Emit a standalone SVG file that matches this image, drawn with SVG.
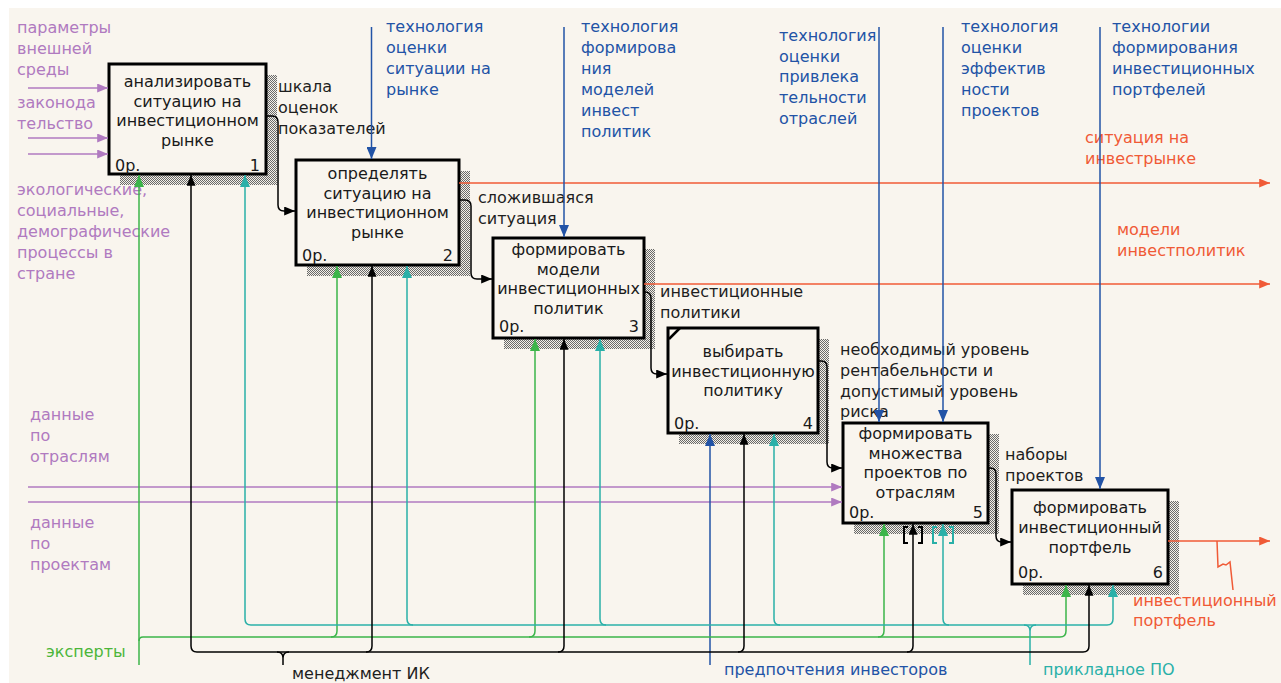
<svg xmlns="http://www.w3.org/2000/svg" width="1281" height="683" viewBox="0 0 1281 683">
<style>
text{font-family:"DejaVu Sans","Liberation Sans",sans-serif;font-size:16px}
.bg{fill:#f9f5ee}
.box{fill:#f9f5ee;stroke:#000;stroke-width:3}
.sh{fill:url(#hatch)}
.bt{fill:#1a1a1a;text-anchor:middle}
.bn{fill:#1a1a1a}
.be{fill:#1a1a1a;text-anchor:end}
.dk{fill:#1e1e1e}
.pu{fill:#b07ac0}
.bl{fill:#2253a6}
.rd{fill:#f05a36}
.gr{fill:#4cb53a}
.tl{fill:#2ab0a8}
.lk{fill:none;stroke:#000;stroke-width:1.5}
.lp{fill:none;stroke:#b07ac0;stroke-width:1.5}
.lb{fill:none;stroke:#2253a6;stroke-width:1.5}
.lr{fill:none;stroke:#f05a36;stroke-width:1.5}
.lg{fill:none;stroke:#3cb54a;stroke-width:1.5}
.lt{fill:none;stroke:#2ab0a8;stroke-width:1.5}
.br{fill:none;stroke-width:2}
</style>
<defs>
<pattern id="hatch" width="2" height="2" patternUnits="userSpaceOnUse">
<rect width="2" height="2" fill="#f4f0e8"/>
<rect width="1" height="1" fill="#6a6a6a"/>
<rect x="1" y="1" width="1" height="1" fill="#6a6a6a"/>
</pattern>
<marker id="ak" viewBox="0 0 12 10" markerWidth="11" markerHeight="9" refX="12" refY="5" orient="auto" markerUnits="userSpaceOnUse"><path d="M0,0 L12,5 L0,10 z" fill="#000"/></marker>
<marker id="ap" viewBox="0 0 12 10" markerWidth="13" markerHeight="9" refX="12" refY="5" orient="auto" markerUnits="userSpaceOnUse"><path d="M0,0 L12,5 L0,10 z" fill="#b07ac0"/></marker>
<marker id="ab" viewBox="0 0 12 10" markerWidth="12" markerHeight="10" refX="12" refY="5" orient="auto" markerUnits="userSpaceOnUse"><path d="M0,0 L12,5 L0,10 z" fill="#2253a6"/></marker>
<marker id="ar" viewBox="0 0 12 10" markerWidth="13" markerHeight="9" refX="12" refY="5" orient="auto" markerUnits="userSpaceOnUse"><path d="M0,0 L12,5 L0,10 z" fill="#f05a36"/></marker>
<marker id="ag" viewBox="0 0 12 10" markerWidth="12" markerHeight="10" refX="12" refY="5" orient="auto" markerUnits="userSpaceOnUse"><path d="M0,0 L12,5 L0,10 z" fill="#3cb54a"/></marker>
<marker id="at" viewBox="0 0 12 10" markerWidth="12" markerHeight="10" refX="12" refY="5" orient="auto" markerUnits="userSpaceOnUse"><path d="M0,0 L12,5 L0,10 z" fill="#2ab0a8"/></marker>
</defs>
<rect width="1281" height="683" fill="#fff"/>
<rect class="bg" x="9" y="8" width="1272" height="675"/>

<g id="shadows">
<rect class="sh" x="120" y="75" width="157" height="110"/>
<rect class="sh" x="307" y="171" width="163" height="105"/>
<rect class="sh" x="504" y="249" width="151" height="100"/>
<rect class="sh" x="679" y="339" width="150" height="105"/>
<rect class="sh" x="854" y="434" width="145" height="100"/>
<rect class="sh" x="1023" y="501" width="156" height="94"/>
</g>

<g id="node1">
<rect class="box" x="109" y="64" width="157" height="110"/>
<text class="bt" x="187.5" y="87">анализировать</text>
<text class="bt" x="187.5" y="106.5">ситуацию на</text>
<text class="bt" x="187.5" y="126">инвестиционном</text>
<text class="bt" x="187.5" y="145.5">рынке</text>
<text class="bn" x="115" y="171">0р.</text>
<text class="be" x="260" y="171">1</text>
</g>
<g id="node2">
<rect class="box" x="296" y="160" width="163" height="105"/>
<text class="bt" x="377.5" y="179">определять</text>
<text class="bt" x="377.5" y="198.5">ситуацию на</text>
<text class="bt" x="377.5" y="218">инвестиционном</text>
<text class="bt" x="377.5" y="237.5">рынке</text>
<text class="bn" x="302" y="261">0р.</text>
<text class="be" x="453" y="261">2</text>
</g>
<g id="node3">
<rect class="box" x="493" y="238" width="151" height="100"/>
<text class="bt" x="568.5" y="255">формировать</text>
<text class="bt" x="568.5" y="274.5">модели</text>
<text class="bt" x="568.5" y="294">инвестиционных</text>
<text class="bt" x="568.5" y="313.5">политик</text>
<text class="bn" x="499" y="332">0р.</text>
<text class="be" x="639" y="332">3</text>
</g>
<g id="node4">
<rect class="box" x="668" y="328" width="150" height="105"/>
<line x1="669" y1="339" x2="680" y2="328" stroke="#000" stroke-width="2.5"/>
<text class="bt" x="743" y="357">выбирать</text>
<text class="bt" x="743" y="376.5">инвестиционную</text>
<text class="bt" x="743" y="396">политику</text>
<text class="bn" x="674" y="429">0р.</text>
<text class="be" x="813" y="429">4</text>
</g>
<g id="node5">
<rect class="box" x="843" y="423" width="145" height="100"/>
<text class="bt" x="915.5" y="439">формировать</text>
<text class="bt" x="915.5" y="458.5">множества</text>
<text class="bt" x="915.5" y="478">проектов по</text>
<text class="bt" x="915.5" y="497.5">отраслям</text>
<text class="bn" x="849" y="518">0р.</text>
<text class="be" x="983" y="518">5</text>
</g>
<g id="node6">
<rect class="box" x="1012" y="490" width="156" height="94"/>
<text class="bt" x="1090" y="513">формировать</text>
<text class="bt" x="1090" y="533">инвестиционный</text>
<text class="bt" x="1090" y="552.5">портфель</text>
<text class="bn" x="1018" y="578">0р.</text>
<text class="be" x="1163" y="578">6</text>
</g>

<g id="labels">
<text class="pu" x="17" y="33">параметры</text>
<text class="pu" x="17" y="54">внешней</text>
<text class="pu" x="17" y="75">среды</text>
<text class="pu" x="17" y="108">законода</text>
<text class="pu" x="17" y="129">тельство</text>
<text class="pu" x="17" y="195">экологические,</text>
<text class="pu" x="17" y="216">социальные,</text>
<text class="pu" x="17" y="237">демографические</text>
<text class="pu" x="17" y="258">процессы в</text>
<text class="pu" x="17" y="279">стране</text>
<text class="pu" x="30" y="420">данные</text>
<text class="pu" x="30" y="441">по</text>
<text class="pu" x="30" y="462">отраслям</text>
<text class="pu" x="30" y="528">данные</text>
<text class="pu" x="30" y="549">по</text>
<text class="pu" x="30" y="570">проектам</text>

<text class="dk" x="278" y="92">шкала</text>
<text class="dk" x="278" y="113">оценок</text>
<text class="dk" x="278" y="134">показателей</text>
<text class="dk" x="478" y="203">сложившаяся</text>
<text class="dk" x="478" y="224">ситуация</text>
<text class="dk" x="660" y="297">инвестиционные</text>
<text class="dk" x="660" y="318">политики</text>
<text class="dk" x="840" y="355">необходимый уровень</text>
<text class="dk" x="840" y="376">рентабельности и</text>
<text class="dk" x="840" y="397">допустимый уровень</text>
<text class="dk" x="840" y="417">риска</text>
<text class="dk" x="1005" y="460">наборы</text>
<text class="dk" x="1005" y="481">проектов</text>
<text class="dk" x="292" y="679">менеджмент ИК</text>

<text class="bl" x="386" y="32">технология</text>
<text class="bl" x="386" y="53">оценки</text>
<text class="bl" x="386" y="74">ситуации на</text>
<text class="bl" x="386" y="95">рынке</text>
<text class="bl" x="581" y="32">технология</text>
<text class="bl" x="581" y="53">формирова</text>
<text class="bl" x="581" y="74">ния</text>
<text class="bl" x="581" y="95">моделей</text>
<text class="bl" x="581" y="116">инвест</text>
<text class="bl" x="581" y="137">политик</text>
<text class="bl" x="779" y="41">технология</text>
<text class="bl" x="779" y="62">оценки</text>
<text class="bl" x="779" y="82">привлека</text>
<text class="bl" x="779" y="103">тельности</text>
<text class="bl" x="779" y="124">отраслей</text>
<text class="bl" x="961" y="32">технология</text>
<text class="bl" x="961" y="53">оценки</text>
<text class="bl" x="961" y="74">эффектив</text>
<text class="bl" x="961" y="95">ности</text>
<text class="bl" x="961" y="116">проектов</text>
<text class="bl" x="1112" y="32">технологии</text>
<text class="bl" x="1112" y="53">формирования</text>
<text class="bl" x="1112" y="74">инвестиционных</text>
<text class="bl" x="1112" y="95">портфелей</text>
<text class="bl" x="724" y="675">предпочтения инвесторов</text>

<text class="rd" x="1085" y="143">ситуация на</text>
<text class="rd" x="1085" y="164">инвестрынке</text>
<text class="rd" x="1117" y="235">модели</text>
<text class="rd" x="1117" y="256">инвестполитик</text>
<text class="rd" x="1133" y="606">инвестиционный</text>
<text class="rd" x="1133" y="626">портфель</text>

<text class="gr" x="46" y="657">эксперты</text>
<text class="tl" x="1043" y="675">прикладное ПО</text>
</g>

<g id="connectors">
<path class="lp" d="M28,88 L108,88" marker-end="url(#ap)"/>
<path class="lp" d="M28,138 L108,138" marker-end="url(#ap)"/>
<path class="lp" d="M28,154 L108,154" marker-end="url(#ap)"/>
<path class="lp" d="M28,487 L842,487" marker-end="url(#ap)"/>
<path class="lp" d="M28,502 L842,502" marker-end="url(#ap)"/>
<path class="lk" d="M266,116 L272,116 Q278,116 278,122 L278,205 Q278,211 284,211 L295,211" marker-end="url(#ak)"/>
<path class="lk" d="M459,200 L465,200 Q471,200 471,206 L471,273 Q471,279 477,279 L492,279" marker-end="url(#ak)"/>
<path class="lk" d="M644,292 L645,292 Q651,292 651,298 L651,368 Q651,374 657,374 L667,374" marker-end="url(#ak)"/>
<path class="lk" d="M818,361 L821,361 Q827,361 827,367 L827,462 Q827,468 833,468 L842,468" marker-end="url(#ak)"/>
<path class="lk" d="M988,468 L990,468 Q996,468 996,474 L996,536 Q996,542 1002,542 L1011,542" marker-end="url(#ak)"/>
<path class="lr" d="M459,183 L1270,183" marker-end="url(#ar)"/>
<path class="lr" d="M644,284 L1270,284" marker-end="url(#ar)"/>
<path class="lr" d="M1168,541 L1270,541" marker-end="url(#ar)"/>
<path class="lr" d="M1217,541 L1218,567 L1223,564 L1226,565 L1230,562 L1233,590"/>
<path class="lb" d="M371.5,27 L371.5,159" marker-end="url(#ab)"/>
<path class="lb" d="M564,27 L564,237" marker-end="url(#ab)"/>
<path class="lb" d="M879,27 L879,422" marker-end="url(#ab)"/>
<path class="lb" d="M943,27 L943,422" marker-end="url(#ab)"/>
<path class="lb" d="M1100,27 L1100,489" marker-end="url(#ab)"/>
<path class="lb" d="M710,665 L710,434" marker-end="url(#ab)"/>
<path class="lg" d="M139,665 L139,175" marker-end="url(#ag)"/>
<path class="lg" d="M139,641 Q139,637 143,637 L1060,637 Q1066,637 1066,631 L1066,585" marker-end="url(#ag)"/>
<path class="lg" d="M331,637 Q337,637 337,631 L337,266" marker-end="url(#ag)"/>
<path class="lg" d="M529,637 Q535,637 535,631 L535,339" marker-end="url(#ag)"/>
<path class="lg" d="M878,637 Q884,637 884,631 L884,524" marker-end="url(#ag)"/>
<path class="lt" d="M251,625 L1107,625"/>
<path class="lt" d="M1030,665 L1030,631 Q1030,625 1024,625 M1030,631 Q1030,625 1036,625"/>
<path class="lt" d="M251,625 Q245,625 245,619 L245,175" marker-end="url(#at)"/>
<path class="lt" d="M413,625 Q407,625 407,619 L407,266" marker-end="url(#at)"/>
<path class="lt" d="M606,625 Q600,625 600,619 L600,339" marker-end="url(#at)"/>
<path class="lt" d="M780,625 Q774,625 774,619 L774,434" marker-end="url(#at)"/>
<path class="lt" d="M949,625 Q943,625 943,619 L943,524" marker-end="url(#at)"/>
<path class="lt" d="M1107,625 Q1113,625 1113,619 L1113,585" marker-end="url(#at)"/>
<path class="br" stroke="#2ab0a8" d="M937,527 L933,527 L933,543 L937,543 M949,527 L953,527 L953,543 L949,543"/>
<path class="lk" d="M197,652 L1083,652"/>
<path class="lk" d="M283,665 L283,658 Q283,652 277,652 M283,658 Q283,652 289,652"/>
<path class="lk" d="M197,652 Q191,652 191,646 L191,175" marker-end="url(#ak)"/>
<path class="lk" d="M366,652 Q372,652 372,646 L372,266" marker-end="url(#ak)"/>
<path class="lk" d="M558,652 Q564,652 564,646 L564,339" marker-end="url(#ak)"/>
<path class="lk" d="M738,652 Q744,652 744,646 L744,434" marker-end="url(#ak)"/>
<path class="lk" d="M907,652 Q913,652 913,646 L913,524" marker-end="url(#ak)"/>
<path class="lk" d="M1083,652 Q1089,652 1089,646 L1089,585" marker-end="url(#ak)"/>
<path class="br" stroke="#000" d="M908,527 L904,527 L904,543 L908,543 M918,527 L922,527 L922,543 L918,543"/>
</g>
</svg>
